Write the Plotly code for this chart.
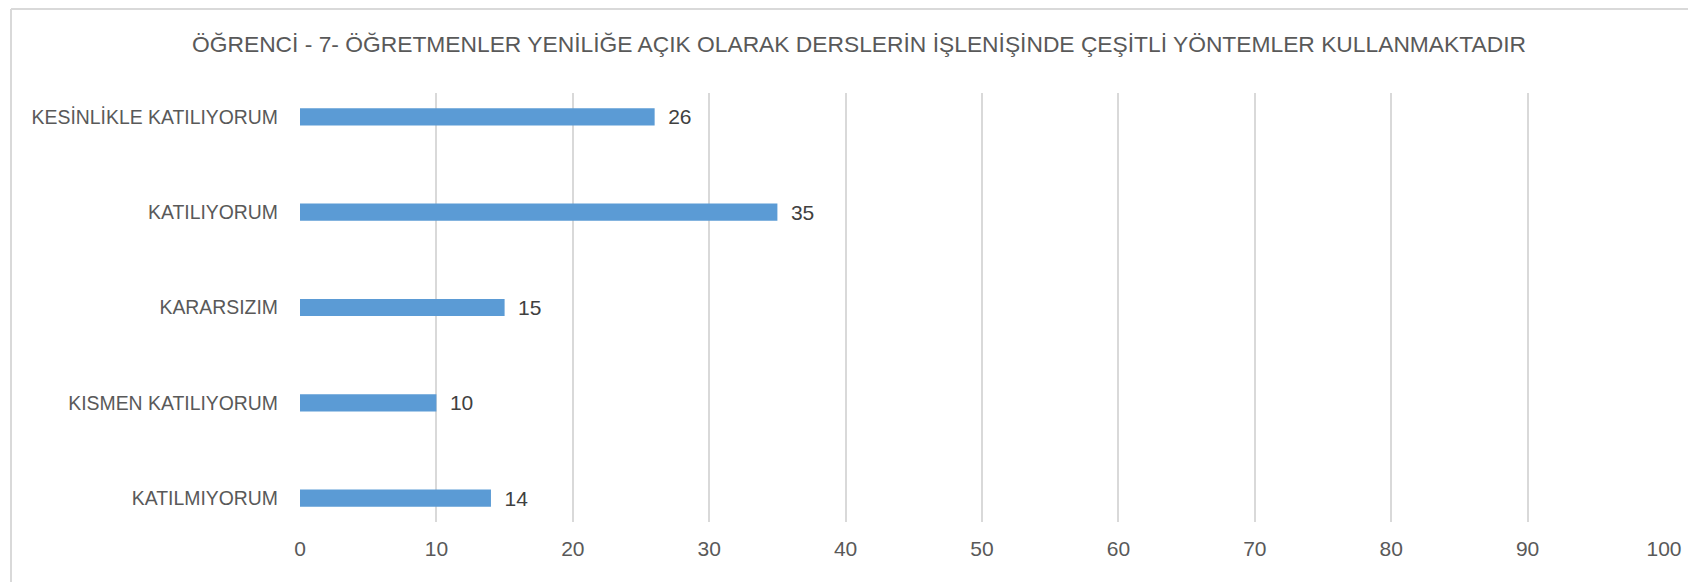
import plotly.graph_objects as go

categories = ["KESİNLİKLE KATILIYORUM", "KATILIYORUM", "KARARSIZIM", "KISMEN KATILIYORUM", "KATILMIYORUM"]
values = [26, 35, 15, 10, 14]
title_text = "ÖĞRENCİ - 7- ÖĞRETMENLER YENİLİĞE AÇIK OLARAK DERSLERİN İŞLENİŞİNDE ÇEŞİTLİ YÖNTEMLER KULLANMAKTADIR"
x_ticks = [0, 10, 20, 30, 40, 50, 60, 70, 80, 90, 100]

# page body has an 8px default margin; compensate so the screenshot lines up
OFF = 8
W, H = 1696 - OFF, 582 - OFF
L = 300 - OFF
R = W - (1664 - OFF)
T = 93 - OFF
B = H - (522 - OFF)
pw = W - L - R
ph = H - T - B

font_family = "Liberation Sans, Arial, sans-serif"
txt_color = "#595959"

fig = go.Figure(go.Bar(
    y=categories, x=values, orientation="h",
    marker=dict(color="#5B9BD5", line=dict(width=0)),
    width=0.18,
    text=[str(v) for v in values], texttemplate="\u2002%{text}", textposition="outside",
    constraintext="none",
    textfont=dict(family=font_family, size=21, color="#404040"),
    cliponaxis=False,
))

fig.update_layout(
    width=W, height=H,
    margin=dict(l=L, r=R, t=T, b=B, pad=0, autoexpand=False),
    paper_bgcolor="white", plot_bgcolor="white",
    showlegend=False,
    title=dict(text=title_text, x=(859 - OFF) / W, xanchor="center", y=1 - (44 - OFF) / H, yanchor="middle",
               font=dict(family=font_family, size=22.8, color=txt_color)),
    xaxis=dict(range=[0, 100], tickvals=x_ticks, showgrid=True, gridcolor="#D9D9D9", gridwidth=1.5,
               zeroline=False, showline=False, ticks="",
               tickfont=dict(family=font_family, size=21, color=txt_color),
               ticklabelstandoff=12),
    yaxis=dict(categoryorder="array", categoryarray=categories[::-1],
               range=[-0.25, 4.25], showgrid=False, zeroline=False, showline=False, ticks="",
               tickfont=dict(family=font_family, size=19.4, color=txt_color),
               ticklabelstandoff=21),
    bargap=0.82,
)

# chart-area border (top and left edges visible in reference)
x_left = (11 - OFF - L) / pw
y_top = (H - B - 1) / ph
fig.add_shape(type="line", xref="paper", yref="paper", x0=x_left, x1=1.1, y0=y_top, y1=y_top,
              line=dict(color="#D9D9D9", width=2))
fig.add_shape(type="line", xref="paper", yref="paper", x0=x_left, x1=x_left, y0=y_top, y1=-0.3,
              line=dict(color="#D9D9D9", width=2))

fig.write_html("out.html")
